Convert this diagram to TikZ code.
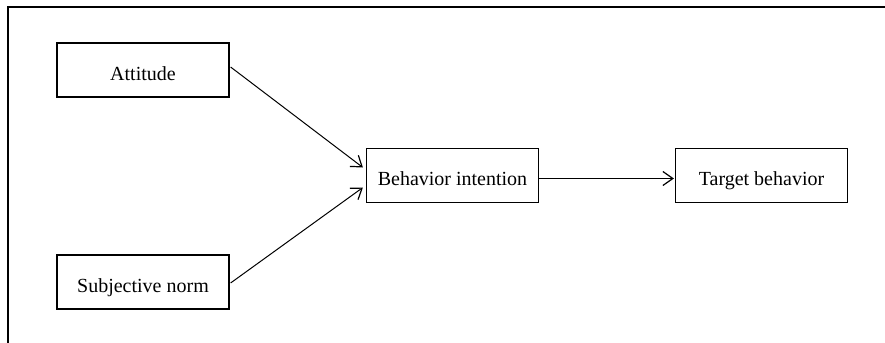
\documentclass[tikz,border=0pt]{standalone}
\usepackage{fontspec}
\setmainfont{Liberation Serif}
\usetikzlibrary{arrows.meta}
\tikzset{
  factor/.style={draw,line width=0.6pt,minimum width=86pt,minimum height=27pt,inner sep=0pt,text height=10pt,text depth=0pt,font=\fontsize{10}{12}\selectfont},
  path arrow/.style={line width=0.5pt,-{Straight Barb[length=5pt,width=7pt,line width=0.6pt]}}
}
\begin{document}
\begin{tikzpicture}[x=0.5pt,y=-0.5pt]
			\useasboundingbox (0,0) rectangle (885,343);
			\draw [line width=1.1pt] (8,343) |- (885,7);
			\node[factor] (Att) at (143,70) {Attitude};
			\node[factor] (Norm) at (143,282) {Subjective norm};
			\node[factor] (Int) at (452.5,175.5) {Behavior intention};
			\node[factor] (Beh) at (761.5,175.5) {Target behavior};
			\draw [path arrow] ([shift={(1,-3)}]Att.east) to ([shift={(-3,-8)}]Int.west);
			\draw [path arrow] ([shift={(1,1)}]Norm.east) to ([shift={(-3,12)}]Int.west);
			\draw [path arrow] ([yshift=-1.5pt]Int.east) to ([shift={(-1,3)}]Beh.west);
		\end{tikzpicture}
\end{document}
